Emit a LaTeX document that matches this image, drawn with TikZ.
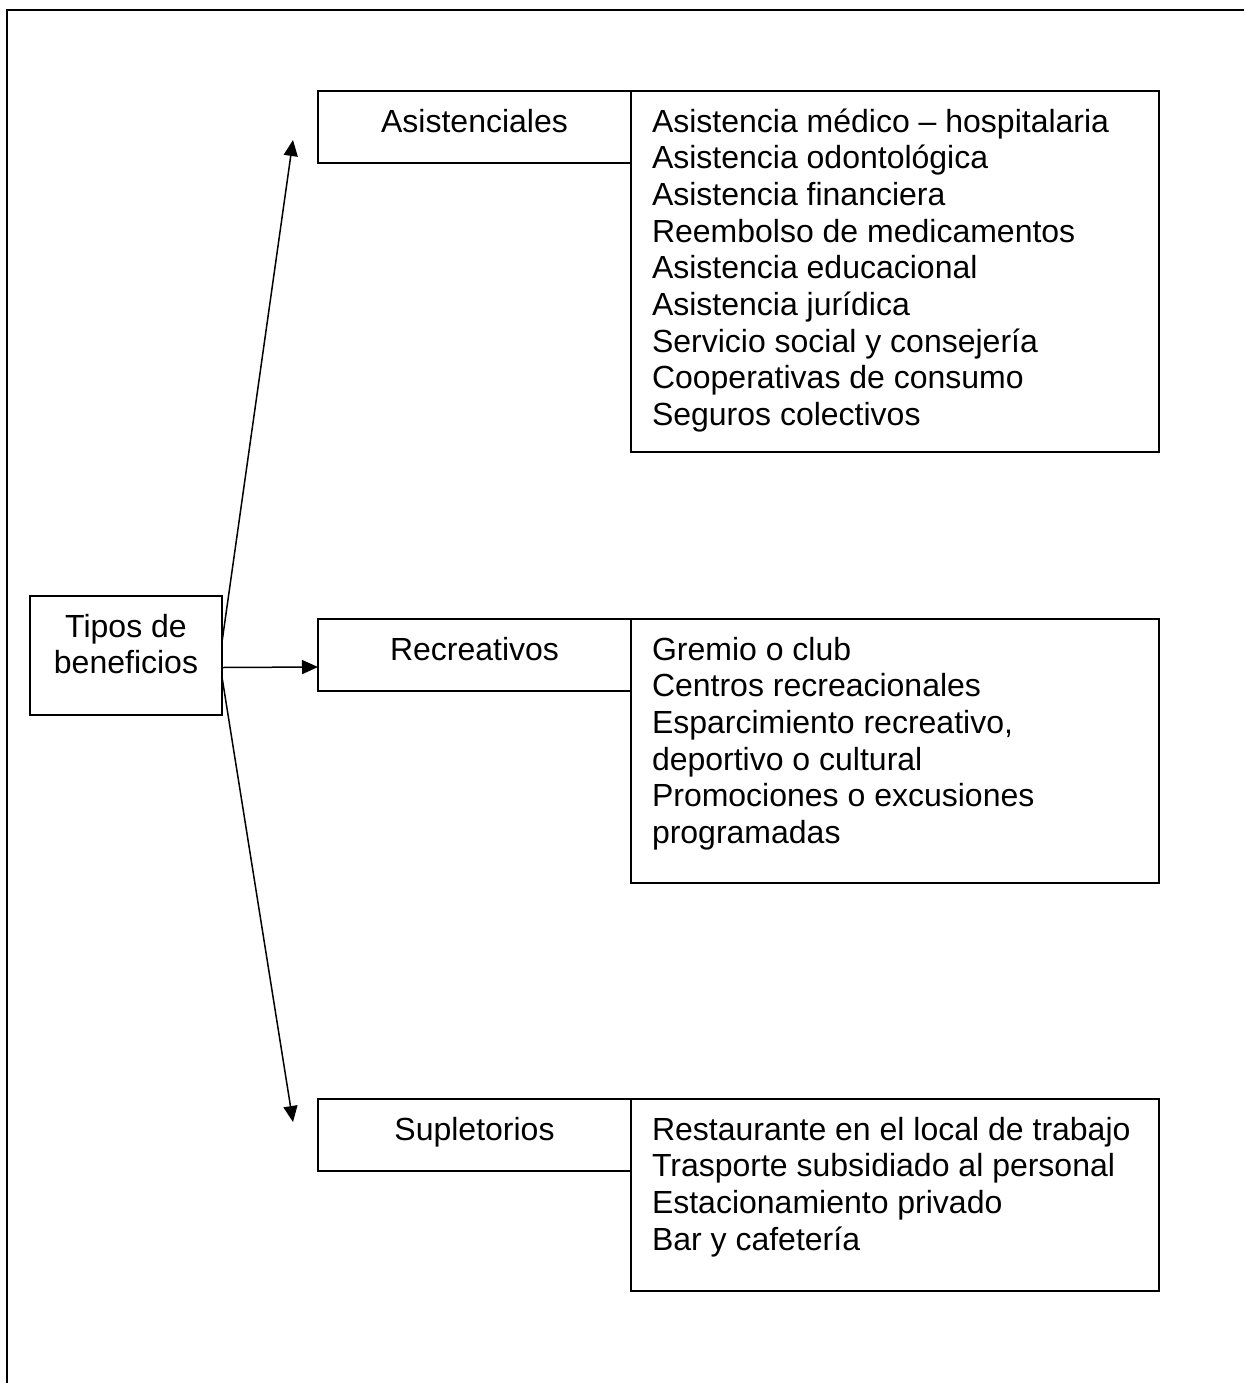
\documentclass[tikz,border=0pt]{standalone}
\usepackage{fontspec}
\setmainfont{Liberation Sans}
\usetikzlibrary{arrows.meta}

% text box: width, height, contents (first baseline fixed)
\newcommand{\cajatexto}[3]{\parbox[c][#2][t]{#1}{\rule{0pt}{20.5pt}#3}}

\begin{document}
\begin{tikzpicture}[
        x=0.5pt, y=-0.5pt,
        caja/.style={draw,line width=0.9pt,fill=white,anchor=north west,
            inner xsep=10.5pt,inner ysep=0pt,outer sep=0pt,
            font=\fontsize{16pt}{18.35pt}\selectfont},
        flecha/.style={line width=0.75pt,-{Triangle[length=8pt,width=7pt]}}
    ]
        \useasboundingbox (0,0) rectangle (1244,1383);

        % Frame
        \draw[line width=1pt] (1244,10) -- (7,10) -- (7,1383);

        % Main box
        \node[caja] (tipos) at (30,596) {\cajatexto{75pt}{59.5pt}{\centering Tipos de\\ beneficios}};

        % Kinds
        \node[caja] (asis) at (318,91) {\cajatexto{135.5pt}{36pt}{\centering Asistenciales}};
        \node[caja] (recre) at (318,619) {\cajatexto{135.5pt}{36pt}{\centering Recreativos}};
        \node[caja] (suple) at (318,1099) {\cajatexto{135.5pt}{36pt}{\centering Supletorios}};

        % Lists
        \node[caja] (asislista) at (asis.north east) {\cajatexto{243pt}{180.5pt}{\raggedright
            Asistencia médico – hospitalaria\\
            Asistencia odontológica\\
            Asistencia financiera\\
            Reembolso de medicamentos\\
            Asistencia educacional\\
            Asistencia jurídica\\
            Servicio social y consejería\\
            Cooperativas de consumo\\
            Seguros colectivos}};
        \node[caja] (recrelista) at (recre.north east) {\cajatexto{243pt}{132pt}{\raggedright
            Gremio o club\\
            Centros recreacionales\\
            Esparcimiento recreativo,\\
            deportivo o cultural\\
            Promociones o excusiones\\
            programadas}};
        \node[caja] (suplelista) at (suple.north east) {\cajatexto{243pt}{96pt}{\raggedright
            Restaurante en el local de trabajo\\
            Trasporte subsidiado al personal\\
            Estacionamiento privado\\
            Bar y cafetería}};

        % Arrows
        \coordinate (puntaA) at (293,140);
        \coordinate (puntaS) at (293,1122);
        \draw[flecha] ([yshift=6.75pt]tipos.east) -- (puntaA);
        \draw[flecha] ([yshift=-6pt]tipos.east) -- ([yshift=-6pt]recre.west);
        \draw[flecha] ([yshift=-10.75pt]tipos.east) -- (puntaS);
    \end{tikzpicture}
\end{document}
